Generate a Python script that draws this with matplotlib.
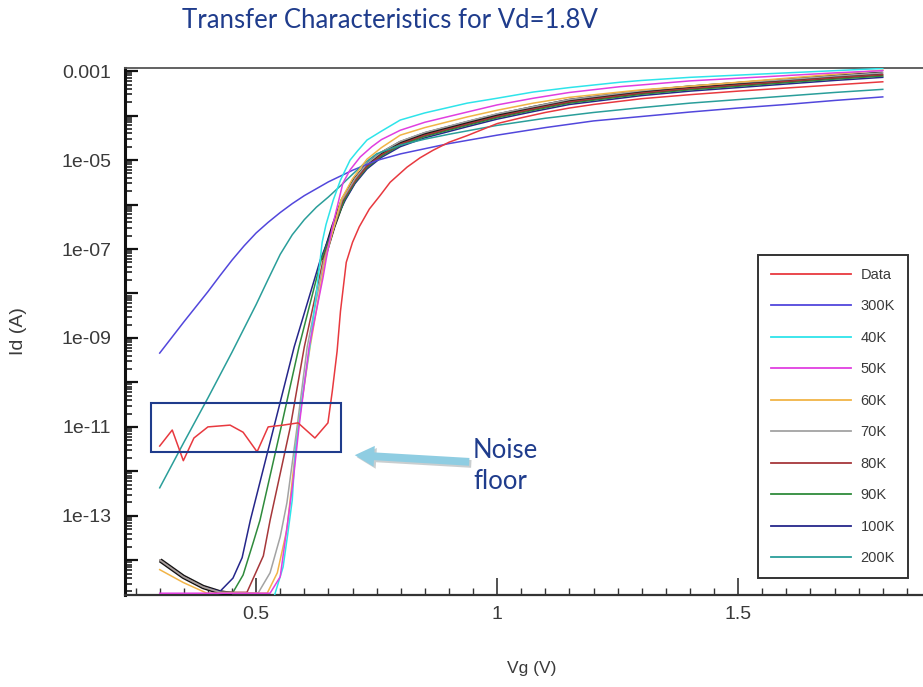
import numpy as np
import matplotlib
matplotlib.use("Agg")
import matplotlib.pyplot as plt
import matplotlib.patheffects as pe
from matplotlib.patches import Rectangle
from matplotlib.ticker import FixedLocator, FixedFormatter, MultipleLocator, LogLocator, NullFormatter

# values: gate voltage (V) and log10 of drain current (A)
vg_data = [0.300, 0.326, 0.349, 0.371, 0.400, 0.446, 0.473, 0.502, 0.525, 0.556, 0.587, 0.622, 0.649,
           0.658, 0.668, 0.675, 0.687, 0.700, 0.714, 0.735, 0.757, 0.778, 0.813, 0.840, 0.867, 0.900, 0.938,
           1.0, 1.05, 1.1, 1.15, 1.2, 1.3, 1.4, 1.5, 1.6, 1.7, 1.8]
logid_data = [-11.43, -11.07, -11.76, -11.25, -11.0, -10.96, -11.12, -11.56, -11.0, -10.96, -10.91, -11.25, -10.91,
              -10.2, -9.3, -8.4, -7.3, -6.85, -6.5, -6.1, -5.8, -5.5, -5.16, -4.95, -4.78, -4.6, -4.45,
              -4.18, -4.05, -3.93, -3.83, -3.75, -3.62, -3.53, -3.45, -3.38, -3.31, -3.24]

vg_300k = [0.300, 0.325, 0.350, 0.375, 0.400, 0.425, 0.450, 0.475, 0.500, 0.525, 0.550, 0.575, 0.600, 0.650,
           0.700, 0.750, 0.800, 0.900, 1.0, 1.1, 1.2, 1.3, 1.4, 1.5, 1.6, 1.7, 1.8]
logid_300k = [-9.34, -8.99, -8.64, -8.30, -7.96, -7.60, -7.25, -6.93, -6.64, -6.40, -6.18, -5.98, -5.80, -5.49,
              -5.23, -5.01, -4.86, -4.63, -4.44, -4.27, -4.12, -4.02, -3.92, -3.83, -3.75, -3.66, -3.58]

vg_200k = [0.300, 0.350, 0.400, 0.450, 0.500, 0.525, 0.550, 0.575, 0.600, 0.625, 0.650, 0.675, 0.700, 0.725,
           0.750, 0.800, 0.850, 0.900, 0.950, 1.0, 1.1, 1.2, 1.3, 1.4, 1.5, 1.6, 1.7, 1.8]
logid_200k = [-12.37, -11.35, -10.35, -9.32, -8.25, -7.68, -7.12, -6.68, -6.34, -6.06, -5.83, -5.58, -5.32, -5.07,
              -4.86, -4.66, -4.53, -4.42, -4.32, -4.22, -4.06, -3.93, -3.82, -3.72, -3.64, -3.56, -3.48, -3.41]

vg_40k = [0.535, 0.556, 0.566, 0.575, 0.581, 0.595, 0.612, 0.627, 0.637, 0.645, 0.660, 0.675, 0.695, 0.710,
          0.730, 0.760, 0.799, 0.850, 0.938, 1.0, 1.075, 1.15, 1.255, 1.3, 1.4, 1.5, 1.6, 1.7, 1.8]
logid_40k = [-14.9, -14.15, -13.38, -12.64, -11.58, -10.39, -9.15, -7.8, -6.85, -6.45, -5.9, -5.45, -5.0, -4.8,
             -4.55, -4.35, -4.1, -3.94, -3.72, -3.61, -3.47, -3.37, -3.25, -3.21, -3.14, -3.09, -3.04, -2.99, -2.94]

vg_50k = [0.300, 0.529, 0.550, 0.566, 0.577, 0.589, 0.610, 0.639, 0.645, 0.658, 0.680, 0.695, 0.716, 0.740,
          0.760, 0.799, 0.850, 0.938, 1.0, 1.075, 1.15, 1.255, 1.3, 1.4, 1.5, 1.6, 1.7, 1.8]
logid_50k = [-14.74, -14.74, -14.37, -13.1, -12.2, -11.0, -9.2, -7.63, -7.25, -6.51, -5.52, -5.22, -4.93, -4.7,
             -4.54, -4.33, -4.15, -3.92, -3.76, -3.61, -3.48, -3.35, -3.31, -3.22, -3.16, -3.10, -3.04, -2.99]

vg_60k = [0.300, 0.349, 0.398, 0.523, 0.544, 0.564, 0.587, 0.612, 0.643, 0.676, 0.700, 0.730, 0.760, 0.799,
          0.850, 0.938, 1.0, 1.075, 1.15, 1.255, 1.3, 1.4, 1.5, 1.6, 1.7, 1.8]
logid_60k = [-14.21, -14.5, -14.74, -14.74, -14.28, -13.3, -11.0, -9.2, -7.25, -5.9, -5.42, -4.98, -4.72, -4.44,
             -4.27, -4.03, -3.88, -3.72, -3.59, -3.47, -3.42, -3.34, -3.25, -3.16, -3.07, -2.98]

vg_70k = [0.301, 0.349, 0.390, 0.425, 0.504, 0.529, 0.550, 0.564, 0.585, 0.606, 0.641, 0.678, 0.705, 0.730,
          0.760, 0.799, 0.850, 0.938, 1.0, 1.075, 1.15, 1.255, 1.3, 1.4, 1.5, 1.6, 1.7, 1.8]
logid_70k = [-14.0, -14.37, -14.6, -14.72, -14.74, -14.28, -13.47, -12.7, -11.0, -9.2, -7.25, -5.9, -5.42, -5.08,
             -4.82, -4.58, -4.38, -4.13, -3.96, -3.80, -3.64, -3.50, -3.44, -3.34, -3.26, -3.19, -3.11, -3.04]

vg_80k = [0.301, 0.349, 0.390, 0.425, 0.481, 0.515, 0.529, 0.571, 0.600, 0.639, 0.680, 0.705, 0.730, 0.760,
          0.799, 0.850, 0.938, 1.0, 1.075, 1.15, 1.255, 1.3, 1.4, 1.5, 1.6, 1.7, 1.8]
logid_80k = [-14.0, -14.37, -14.6, -14.72, -14.72, -13.9, -13.1, -11.0, -9.2, -7.25, -5.9, -5.47, -5.14, -4.88,
             -4.64, -4.44, -4.19, -4.02, -3.85, -3.69, -3.55, -3.49, -3.39, -3.31, -3.23, -3.15, -3.08]

vg_90k = [0.301, 0.349, 0.390, 0.425, 0.452, 0.473, 0.494, 0.508, 0.552, 0.589, 0.635, 0.683, 0.705, 0.730,
          0.760, 0.799, 0.850, 0.938, 1.0, 1.075, 1.15, 1.255, 1.3, 1.4, 1.5, 1.6, 1.7, 1.8]
logid_90k = [-14.0, -14.37, -14.6, -14.72, -14.72, -14.33, -13.6, -13.1, -11.0, -9.2, -7.25, -5.9, -5.5, -5.17,
             -4.91, -4.67, -4.47, -4.22, -4.05, -3.88, -3.72, -3.58, -3.52, -3.42, -3.34, -3.26, -3.18, -3.11]

vg_100k = [0.301, 0.349, 0.390, 0.425, 0.452, 0.471, 0.488, 0.537, 0.579, 0.633, 0.668, 0.685, 0.705, 0.730,
           0.760, 0.799, 0.850, 0.938, 1.0, 1.075, 1.15, 1.255, 1.3, 1.4, 1.5, 1.6, 1.7, 1.8]
logid_100k = [-14.0, -14.37, -14.6, -14.7, -14.4, -13.94, -13.1, -11.0, -9.2, -7.25, -6.28, -5.9, -5.53, -5.2,
              -4.94, -4.7, -4.5, -4.25, -4.08, -3.91, -3.75, -3.61, -3.55, -3.45, -3.37, -3.29, -3.21, -3.14]

# dark overlap of the bunched curves (no legend entry); nan = gap
vg_band = [0.301, 0.349, 0.390, 0.425, 0.450, np.nan, 0.639, 0.660, 0.680, 0.705, 0.730, 0.760, 0.799, 0.850,
           0.938, 1.0, 1.075, 1.15, 1.255, 1.3, 1.4, 1.5, 1.6, 1.7, 1.8]
logid_band = [-14.0, -14.37, -14.6, -14.72, -14.76, np.nan, -7.25, -6.5, -5.9, -5.45, -5.12, -4.86, -4.62, -4.42,
              -4.17, -4.0, -3.83, -3.67, -3.53, -3.47, -3.37, -3.29, -3.21, -3.13, -3.06]

labels = ["Data", "300K", "40K", "50K", "60K", "70K", "80K", "90K", "100K", "200K"]
colors = ["#e8393f", "#5247dc", "#2ee4ea", "#e03fe0", "#f1b447", "#a3a3a3", "#a6373a", "#2f8b3c", "#25268a", "#2a9e9a"]
vgs = [vg_data, vg_300k, vg_40k, vg_50k, vg_60k, vg_70k, vg_80k, vg_90k, vg_100k, vg_200k]
logids = [logid_data, logid_300k, logid_40k, logid_50k, logid_60k, logid_70k, logid_80k, logid_90k, logid_100k, logid_200k]
zorders = [6, 4, 5, 5.5, 4.5, 3.4, 3.3, 3.2, 3.1, 4]

noise_box = (0.282, 0.676, -11.56, -10.46)  # Vg range, log10 Id range

title_blue = "#1f3c8c"
text_gray = "#3a3a3a"

plt.rcParams['font.family'] = ['Liberation Sans', 'DejaVu Sans']

W, H = 923, 687
fig = plt.figure(figsize=(W / 100, H / 100), dpi=100)
ax = fig.add_axes([125 / W, (H - 595) / H, (930 - 125) / W, (595 - 68) / H])

ax.plot(np.array(vg_band), 10 ** np.array(logid_band), color="#151515", lw=3.2, zorder=3,
        solid_capstyle="butt")
for lab, col, x, y, z in zip(labels, colors, vgs, logids, zorders):
    ax.plot(x, 10 ** np.array(y), color=col, lw=1.1, label=lab, zorder=z)

ax.set_yscale("log")
ax.set_xlim(0.228, 1.898)
ax.set_ylim(10 ** -14.78, 10 ** -2.93)

# ticks
major_exp = list(range(-3, -15, -1))
ax.yaxis.set_major_locator(FixedLocator([10.0 ** e for e in major_exp]))
ylabels = []
for e in major_exp:
    if e == -3:
        ylabels.append("0.001")
    elif e % 2 == 1:
        ylabels.append(f"1e-{-e:02d}")
    else:
        ylabels.append("")
ax.yaxis.set_major_formatter(FixedFormatter(ylabels))
ax.yaxis.set_minor_locator(LogLocator(base=10, subs=np.arange(2, 10), numticks=40))
ax.yaxis.set_minor_formatter(NullFormatter())
ax.xaxis.set_major_locator(FixedLocator([0.5, 1.0, 1.5]))
ax.xaxis.set_major_formatter(FixedFormatter(["0.5", "1", "1.5"]))
ax.xaxis.set_minor_locator(MultipleLocator(0.05))

ax.tick_params(axis="y", which="major", direction="in", length=9, width=1.6, color="#111",
               labelsize=14, labelcolor=text_gray, pad=10)
ax.tick_params(axis="y", which="minor", direction="in", length=5, width=1.2, color="#222")
ax.tick_params(axis="x", which="major", direction="in", length=12, width=1.2, color="#333",
               labelsize=14, labelcolor=text_gray, pad=8)
ax.tick_params(axis="x", which="minor", direction="in", length=5, width=1.0, color="#333")

ax.spines["left"].set_linewidth(2.2)
ax.spines["left"].set_color("#111")
ax.spines["bottom"].set_linewidth(1.6)
ax.spines["bottom"].set_color("#333")
ax.spines["top"].set_linewidth(1.3)
ax.spines["top"].set_color("#555")
ax.spines["right"].set_visible(False)

ax.set_ylabel("Id (A)", fontsize=14, color=text_gray)
ax.set_xlabel("Vg (V)", fontsize=12.5, color=text_gray)
ax.yaxis.set_label_coords(-0.122, 0.5)
ax.xaxis.set_label_coords(0.5056, -0.125)

# legend
leg = ax.legend(loc="upper left", bbox_to_anchor=(758 / W, 1 - 255 / H), bbox_transform=fig.transFigure,
                fontsize=10.5, handlelength=5.5, handletextpad=0.65, labelspacing=1.2, borderpad=0.88,
                borderaxespad=0, fancybox=False, framealpha=1, edgecolor="#333")
leg.get_frame().set_linewidth(1.4)
for t in leg.get_texts():
    t.set_color(text_gray)
for h in leg.get_lines():
    h.set_linewidth(1.3)
leg.set_zorder(10)

# noise floor box
x0, x1, l0, l1 = noise_box
ax.add_patch(Rectangle((x0, 10 ** l0), x1 - x0, 10 ** l1 - 10 ** l0, fill=False,
                       edgecolor=title_blue, lw=1.5, zorder=8, clip_on=False))

# arrow and annotation
ax.annotate("", xy=(352 / W, 1 - 455 / H), xytext=(472 / W, 1 - 462 / H),
            xycoords="figure fraction", textcoords="figure fraction",
            arrowprops=dict(arrowstyle="simple,head_length=0.7,head_width=0.75,tail_width=0.28",
                            mutation_scale=20, color="#8fcde2", lw=0,
                            path_effects=[pe.SimplePatchShadow(offset=(1.5, -1.5), alpha=0.25),
                                          pe.Normal()]))
fig.text(473 / W, 1 - 466 / H, "Noise\nfloor", fontsize=18.5, color=title_blue, family="Lato",
         ha="left", va="center", linespacing=1.3)

fig.text(390 / W, 1 - 20 / H, "Transfer Characteristics for Vd=1.8V", fontsize=18.5, color=title_blue,
         family="Lato", ha="center", va="center")

fig.savefig("out.png", dpi=100)
